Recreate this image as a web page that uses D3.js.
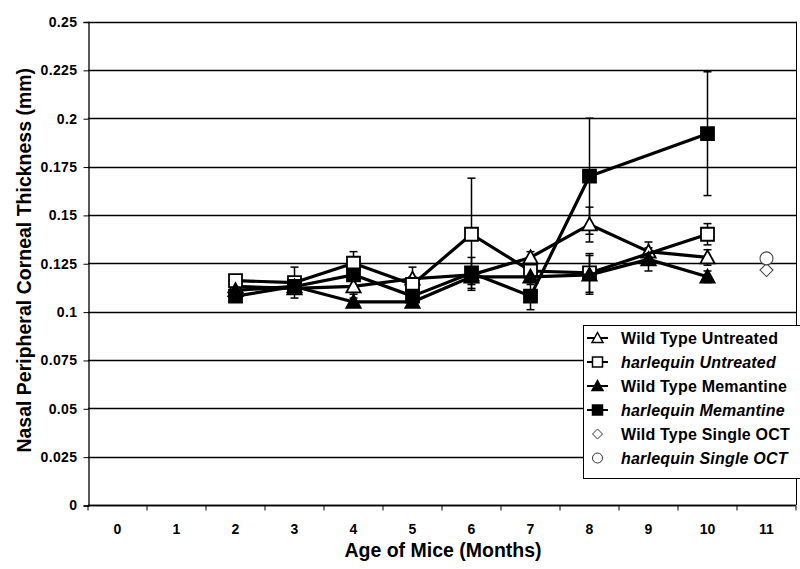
<!DOCTYPE html>
<html>
<head>
<meta charset="utf-8">
<script src="https://cdn.jsdelivr.net/npm/d3@7"></script>
<style>
  html, body { margin: 0; padding: 0; background: #fff; }
  svg { display: block; font-family: "Liberation Sans", Arial, sans-serif; }
</style>
</head>
<body>
<svg id="chart" width="800" height="569"></svg>
<script>
// Month categories on the x axis
const months = [0, 1, 2, 3, 4, 5, 6, 7, 8, 9, 10, 11];
const yTicks = [0, 0.025, 0.05, 0.075, 0.1, 0.125, 0.15, 0.175, 0.2, 0.225, 0.25];

// Wild type, untreated
const wtUntreatedMonths = [2, 3, 4, 5, 6, 7, 8, 9, 10];
const wtUntreatedMean   = [0.113, 0.112, 0.113, 0.117, 0.119, 0.128, 0.145, 0.131, 0.128];
const wtUntreatedErr    = [0.003, 0.003, 0.004, 0.006, 0.004, 0.003, 0.009, 0.005, 0.004];

// harlequin, untreated
const hqUntreatedMonths = [2, 3, 4, 5, 6, 7, 8, 10];
const hqUntreatedMean   = [0.116, 0.115, 0.125, 0.114, 0.140, 0.121, 0.120, 0.140];
const hqUntreatedErr    = [0.002, 0.008, 0.006, 0.004, 0.029, 0.004, 0.010, 0.0055];

// Wild type, memantine
const wtMemantineMonths = [2, 3, 4, 5, 6, 7, 8, 9, 10];
const wtMemantineMean   = [0.111, 0.113, 0.105, 0.105, 0.118, 0.118, 0.119, 0.127, 0.118];
const wtMemantineErr    = [0.003, 0.003, 0.002, 0.002, 0.004, 0.004, 0.010, 0.006, 0.003];

// harlequin, memantine
const hqMemantineMonths = [2, 3, 4, 5, 6, 7, 8, 10];
const hqMemantineMean   = [0.108, 0.113, 0.119, 0.108, 0.120, 0.108, 0.170, 0.192];
const hqMemantineErr    = [0.003, 0.003, 0.003, 0.003, 0.008, 0.007, 0.030, 0.032];

// Single OCT measurements
const wtSingleMonths = [11];
const wtSingleMean   = [0.1215];
const hqSingleMonths = [11];
const hqSingleMean   = [0.1275];

const seriesNames = [
  "Wild Type Untreated",
  "harlequin Untreated",
  "Wild Type Memantine",
  "harlequin Memantine",
  "Wild Type Single OCT",
  "harlequin Single OCT"
];

const zip = (ms, vs, es) => ms.map((m, i) => ({ m, v: vs[i], e: es ? es[i] : 0 }));

const series = [
  { name: seriesNames[0], shape: "triangle", filled: false, line: true, pts: zip(wtUntreatedMonths, wtUntreatedMean, wtUntreatedErr) },
  { name: seriesNames[1], shape: "square",   filled: false, line: true, pts: zip(hqUntreatedMonths, hqUntreatedMean, hqUntreatedErr) },
  { name: seriesNames[2], shape: "triangle", filled: true,  line: true, pts: zip(wtMemantineMonths, wtMemantineMean, wtMemantineErr) },
  { name: seriesNames[3], shape: "square",   filled: true,  line: true, pts: zip(hqMemantineMonths, hqMemantineMean, hqMemantineErr) },
  { name: seriesNames[4], shape: "diamond",  filled: false, line: false, pts: zip(wtSingleMonths, wtSingleMean) },
  { name: seriesNames[5], shape: "circle",   filled: false, line: false, pts: zip(hqSingleMonths, hqSingleMean) }
];

const svg = d3.select("#chart");
const plot = { left: 88, right: 796, top: 21.5, bottom: 505 };

const x = d3.scaleBand().domain(months).range([plot.left, plot.right]).padding(0);
const xc = m => x(m) + x.bandwidth() / 2;
const y = d3.scaleLinear().domain([0, 0.25]).range([plot.bottom, plot.top]);

// Horizontal gridlines
svg.append("g")
  .selectAll("line")
  .data(yTicks)
  .join("line")
  .attr("x1", plot.left).attr("x2", plot.right)
  .attr("y1", d => Math.round(y(d)) + 0.5).attr("y2", d => Math.round(y(d)) + 0.5)
  .attr("stroke", "#000").attr("stroke-width", 1.3);

// Right edge of plot area
svg.append("line")
  .attr("x1", plot.right + 0.5).attr("x2", plot.right + 0.5)
  .attr("y1", plot.top).attr("y2", plot.bottom)
  .attr("stroke", "#000").attr("stroke-width", 1);

// Y axis
const yAxis = d3.axisLeft(y).tickValues(yTicks).tickFormat(d => d3.format("")(+d.toFixed(3))).tickSizeOuter(0).tickSize(5).tickPadding(6);
const gy = svg.append("g").attr("transform", `translate(${plot.left + 0.5},0.5)`).call(yAxis);
gy.select(".domain").attr("stroke-width", 1.3);
gy.selectAll("text").attr("font-size", 14).attr("font-weight", "bold")
  .attr("letter-spacing", 0.4).attr("fill", "#000");

// X axis: labels centred in each month band, ticks on band edges
const gx = svg.append("g").attr("transform", `translate(0,${plot.bottom + 0.5})`);
gx.append("line").attr("x1", plot.left).attr("x2", plot.right).attr("stroke", "#000").attr("stroke-width", 1.5);
gx.selectAll("line.tick")
  .data(months.concat([null]))
  .join("line")
  .attr("class", "tick")
  .attr("x1", d => d === null ? plot.right : x(d))
  .attr("x2", d => d === null ? plot.right : x(d))
  .attr("y1", 0).attr("y2", 5)
  .attr("stroke", "#000");
gx.selectAll("text")
  .data(months)
  .join("text")
  .attr("x", d => xc(d))
  .attr("y", 28)
  .attr("text-anchor", "middle")
  .attr("font-size", 14).attr("font-weight", "bold")
  .text(d => d);

// Axis titles
svg.append("text")
  .attr("transform", `translate(31,${(plot.top + plot.bottom) / 2 - 3}) rotate(-90)`)
  .attr("text-anchor", "middle")
  .attr("font-size", 19.5).attr("font-weight", "bold")
  .text("Nasal Peripheral Corneal Thickness (mm)");

svg.append("text")
  .attr("x", 443).attr("y", 557)
  .attr("text-anchor", "middle")
  .attr("font-size", 19.5).attr("font-weight", "bold")
  .text("Age of Mice (Months)");

// Marker path generator
function markerPath(shape, s) {
  switch (shape) {
    case "triangle": return `M0,${-s * 0.55}L${s * 0.55},${s * 0.45}L${-s * 0.55},${s * 0.45}Z`;
    case "square":   return `M${-s / 2},${-s / 2}h${s}v${s}h${-s}Z`;
    case "diamond":  return `M0,${-s / 2}L${s / 2},0L0,${s / 2}L${-s / 2},0Z`;
    case "circle":   return d3.arc()({ innerRadius: 0, outerRadius: s / 2, startAngle: 0, endAngle: 2 * Math.PI });
  }
}

const line = d3.line().x(d => xc(d.m)).y(d => y(d.v));

// Error bars
const gErr = svg.append("g");
series.forEach(s => {
  s.pts.filter(p => p.e > 0).forEach(p => {
    const cx = xc(p.m), y1 = y(p.v + p.e), y2 = y(p.v - p.e);
    gErr.append("line").attr("x1", cx).attr("x2", cx).attr("y1", y1).attr("y2", y2)
      .attr("stroke", "#000").attr("stroke-width", 1.5);
    [y1, y2].forEach(yy => gErr.append("line")
      .attr("x1", cx - 4).attr("x2", cx + 4).attr("y1", yy).attr("y2", yy)
      .attr("stroke", "#000").attr("stroke-width", 1.5));
  });
});

// Series lines and markers
series.forEach(s => {
  const g = svg.append("g");
  if (s.line) {
    g.append("path").datum(s.pts).attr("d", line)
      .attr("fill", "none").attr("stroke", "#000").attr("stroke-width", 3.2)
      .attr("stroke-linejoin", "round");
  }
  g.selectAll("path.mk")
    .data(s.pts)
    .join("path")
    .attr("class", "mk")
    .attr("transform", d => `translate(${xc(d.m)},${y(d.v)})`)
    .attr("d", markerPath(s.shape, 13))
    .attr("fill", s.filled ? "#000" : "#fff")
    .attr("stroke", s.line ? "#000" : "#444")
    .attr("stroke-width", s.line ? 1.8 : 1.1);
});

// Legend
const lg = svg.append("g").attr("transform", "translate(583,325)");
lg.append("rect").attr("x", 0.5).attr("y", 0.5).attr("width", 240).attr("height", 153)
  .attr("fill", "#fff").attr("stroke", "#000").attr("stroke-width", 1);
series.forEach((s, i) => {
  const ry = 13 + i * 24;
  if (s.line) {
    lg.append("line").attr("x1", 4).attr("x2", 25).attr("y1", ry).attr("y2", ry)
      .attr("stroke", "#000").attr("stroke-width", 2);
  }
  lg.append("path")
    .attr("transform", `translate(14.5,${ry})`)
    .attr("d", markerPath(s.shape, 10))
    .attr("fill", s.filled ? "#000" : "#fff")
    .attr("stroke", s.line ? "#000" : "#333")
    .attr("stroke-width", s.line ? 1.5 : 1);
  const isHq = s.name.startsWith("harlequin");
  const t = lg.append("text").attr("x", 38).attr("y", ry + 6)
    .attr("font-size", 16).attr("font-weight", "bold").attr("letter-spacing", 0.2);
  if (isHq) {
    t.attr("font-style", "italic").text(s.name);
  } else {
    t.text(s.name);
  }
});
</script>
</body>
</html>
